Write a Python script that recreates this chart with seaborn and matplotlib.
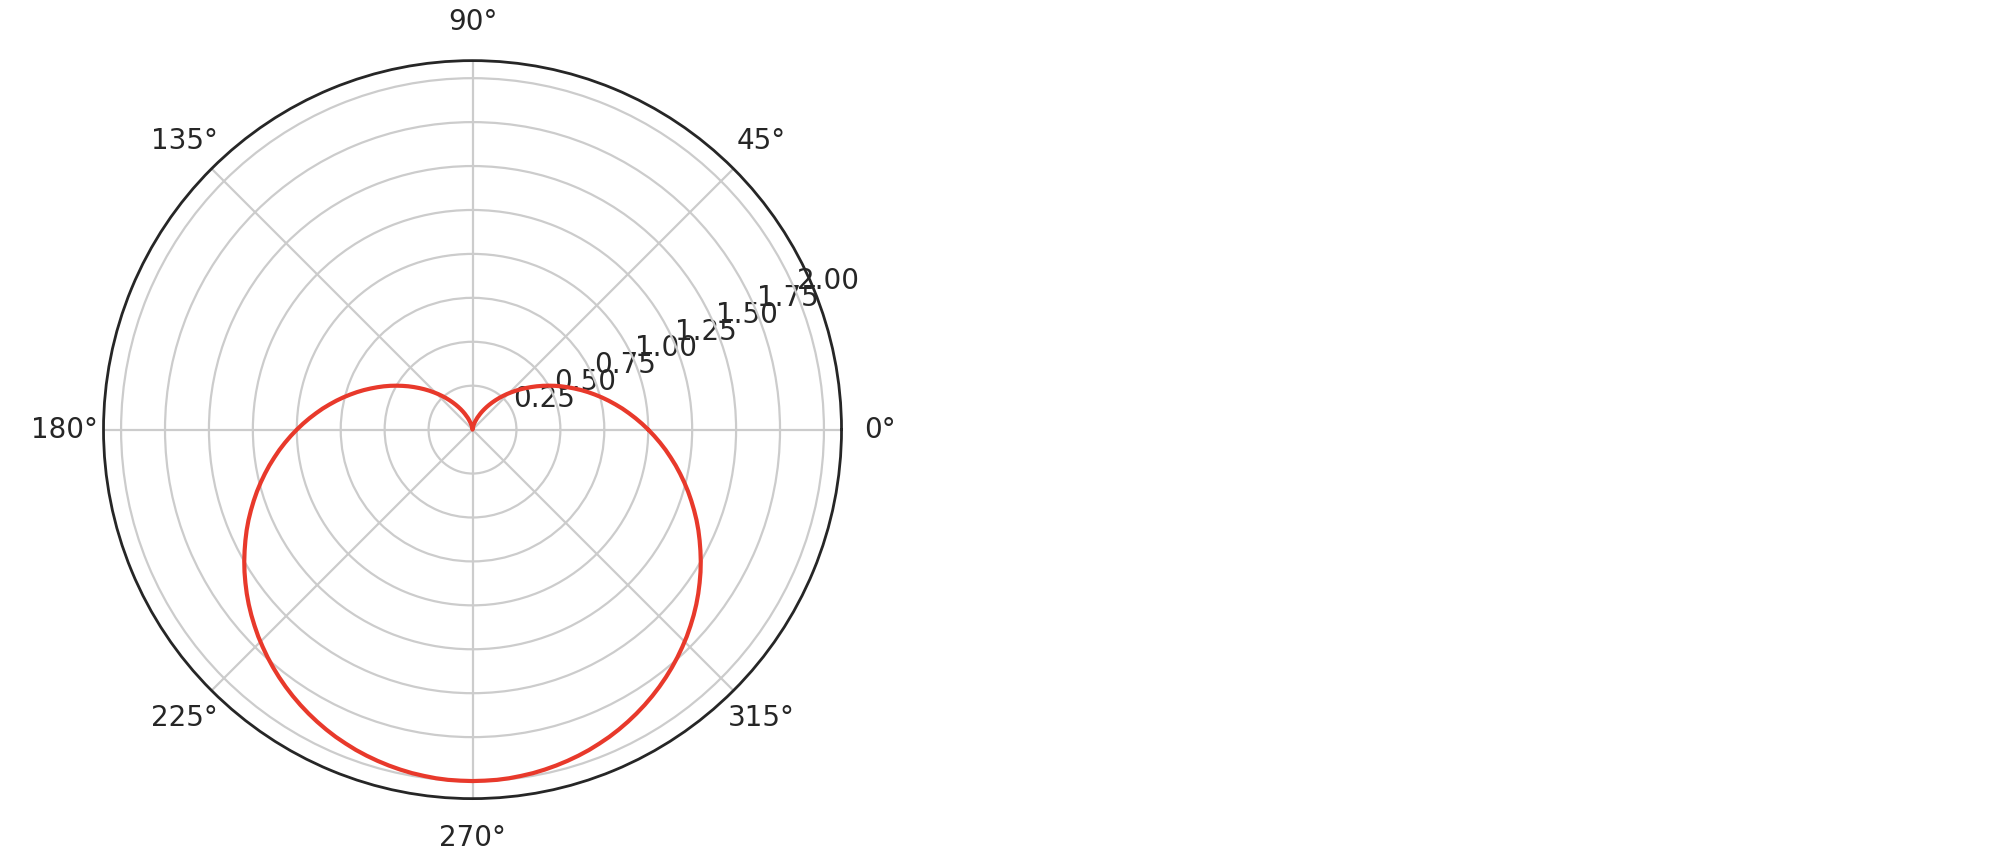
import numpy as np
import pandas as pd
import matplotlib
matplotlib.use("Agg")
import matplotlib.pyplot as plt
import seaborn as sns

angles_deg = list(range(0, 362, 2))
radius = [
    # 0 - 90
    1.000, 0.965, 0.930, 0.895, 0.861, 0.826, 0.792, 0.758, 0.724, 0.691,
    0.658, 0.625, 0.593, 0.562, 0.531, 0.500, 0.470, 0.441, 0.412, 0.384,
    0.357, 0.331, 0.305, 0.281, 0.257, 0.234, 0.212, 0.191, 0.171, 0.152,
    0.134, 0.117, 0.101, 0.086, 0.073, 0.060, 0.049, 0.039, 0.030, 0.022,
    0.015, 0.010, 0.005, 0.002, 0.001, 0.000,
    # 92 - 180
    0.001, 0.002, 0.005, 0.010, 0.015, 0.022, 0.030, 0.039, 0.049, 0.060,
    0.073, 0.086, 0.101, 0.117, 0.134, 0.152, 0.171, 0.191, 0.212, 0.234,
    0.257, 0.281, 0.305, 0.331, 0.357, 0.384, 0.412, 0.441, 0.470, 0.500,
    0.531, 0.562, 0.593, 0.625, 0.658, 0.691, 0.724, 0.758, 0.792, 0.826,
    0.861, 0.895, 0.930, 0.965, 1.000,
    # 182 - 270
    1.035, 1.070, 1.105, 1.139, 1.174, 1.208, 1.242, 1.276, 1.309, 1.342,
    1.375, 1.407, 1.438, 1.469, 1.500, 1.530, 1.559, 1.588, 1.616, 1.643,
    1.669, 1.695, 1.719, 1.743, 1.766, 1.788, 1.809, 1.829, 1.848, 1.866,
    1.883, 1.899, 1.914, 1.927, 1.940, 1.951, 1.961, 1.970, 1.978, 1.985,
    1.990, 1.995, 1.998, 1.999, 2.000,
    # 272 - 360
    1.999, 1.998, 1.995, 1.990, 1.985, 1.978, 1.970, 1.961, 1.951, 1.940,
    1.927, 1.914, 1.899, 1.883, 1.866, 1.848, 1.829, 1.809, 1.788, 1.766,
    1.743, 1.719, 1.695, 1.669, 1.643, 1.616, 1.588, 1.559, 1.530, 1.500,
    1.469, 1.438, 1.407, 1.375, 1.342, 1.309, 1.276, 1.242, 1.208, 1.174,
    1.139, 1.105, 1.070, 1.035, 1.000,
]
r_ticks = [0.25, 0.50, 0.75, 1.00, 1.25, 1.50, 1.75, 2.00]
r_max = 2.1

df = pd.DataFrame({"theta": np.deg2rad(angles_deg), "r": radius})

sns.set_style("whitegrid")
plt.rcParams["font.family"] = ["DejaVu Sans"]

fig = plt.figure(figsize=(10.03, 4.33), dpi=200)
ax = fig.add_axes([0.0516, 0.0774, 0.3679, 0.853], projection="polar")

sns.lineplot(data=df, x="theta", y="r", sort=False, color="#e8392b",
             linewidth=1.5, ax=ax)

ax.set_rmax(r_max)
ax.set_rticks(r_ticks)
ax.set_yticklabels([f"{t:.2f}" for t in r_ticks])
ax.set_xlabel("")
ax.set_ylabel("")
ax.grid(True, color="#cccccc", linewidth=0.8)
ax.spines["polar"].set_color("#262626")
ax.spines["polar"].set_linewidth(1.0)
ax.tick_params(labelsize=10, colors="#262626")

plt.savefig("out.png", dpi=200)
